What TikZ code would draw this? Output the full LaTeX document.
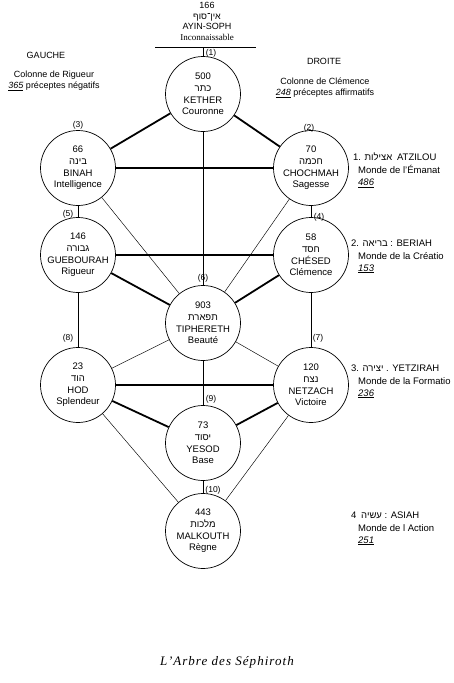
\documentclass[tikz,border=0pt]{standalone}
\usepackage{fontspec}
\setmainfont{Liberation Sans}
\newfontfamily\hebfont[Script=Hebrew]{Liberation Sans}
\newfontfamily\seriffam{Liberation Serif}
\TeXXeTstate=1
\newcommand{\heb}[1]{{\hebfont\beginR #1\endR}}
\newcommand{\unum}[1]{\underline{\textit{#1}}}
\begin{document}
\begin{tikzpicture}[x=1pt,y=-1pt,
  sephira/.style={circle, draw, line width=0.7pt, minimum size=75pt, inner sep=0pt, align=center, font=\fontsize{9.5}{11.6}\selectfont},
  thickline/.style={line width=1.8pt},
  thinline/.style={line width=0.45pt},
  pathlabel/.style={font=\fontsize{8.5}{9}\selectfont, inner sep=1pt},
  txt/.style={font=\fontsize{9}{11}\selectfont, align=center, inner sep=0pt},
  world/.style={font=\fontsize{9.5}{12}\selectfont, align=left, inner sep=0pt, anchor=north west},
]
\useasboundingbox (0,0) rectangle (454,683);

% Sephiroth
\node[sephira] (kether)    at (203,94)  {500\\\heb{כתר}\\KETHER\\Couronne};
\node[sephira] (binah)     at (78,168)  {66\\\heb{בינה}\\BINAH\\Intelligence};
\node[sephira] (chochmah)  at (311,168) {70\\\heb{חכמה}\\CHOCHMAH\\Sagesse};
\node[sephira] (guebourah) at (78,255)  {146\\\heb{גבורה}\\GUEBOURAH\\Rigueur};
\node[sephira] (chesed)    at (311,255) {58\\\heb{חסד}\\CHÉSED\\Clémence};
\node[sephira] (tiphereth) at (203,323) {903\\\heb{תפארת}\\TIPHERETH\\Beauté};
\node[sephira] (hod)       at (78,385)  {23\\\heb{הוד}\\HOD\\Splendeur};
\node[sephira] (netzach)   at (311,385) {120\\\heb{נצח}\\NETZACH\\Victoire};
\node[sephira] (yesod)     at (203,443) {73\\\heb{יסוד}\\YESOD\\Base};
\node[sephira] (malkouth)  at (203,531) {443\\\heb{מלכות}\\MALKOUTH\\Règne};

% Ayin Soph
\node[txt, anchor=north, font=\fontsize{9}{10.6}\selectfont] (ainsoph) at (207,2)
  {166\\\heb{אין־סוף}\\AYIN-SOPH\\{\seriffam Inconnaissable}};
\coordinate (barL) at (155,47);
\coordinate (barR) at (256,47);
\coordinate (barM) at (203,47);
\draw[thinline, line width=0.6pt] (barL) -- (barR);
\draw[thinline] (barM) -- (kether);

% thick paths
\draw[thickline] (kether) -- (binah);
\draw[thickline] (kether) -- (chochmah);
\draw[thickline] (binah) -- (chochmah);
\draw[thickline] (guebourah) -- (chesed);
\draw[thickline] (guebourah) -- (tiphereth);
\draw[thickline] (chesed) -- (tiphereth);
\draw[thickline] (hod) -- (netzach);
\draw[thickline] (hod) -- (yesod);
\draw[thickline] (netzach) -- (yesod);

% thin paths
\draw[thinline] (kether) -- (tiphereth);
\draw[thinline] (binah) -- (guebourah);
\draw[thinline] (chochmah) -- (chesed);
\draw[thinline] (binah) -- (tiphereth);
\draw[thinline] (chochmah) -- (tiphereth);
\draw[thinline] (guebourah) -- (hod);
\draw[thinline] (chesed) -- (netzach);
\draw[thinline] (tiphereth) -- (hod);
\draw[thinline] (tiphereth) -- (netzach);
\draw[thinline] (tiphereth) -- (yesod);
\draw[thinline] (yesod) -- (malkouth);
\draw[thinline] (hod) -- (malkouth);
\draw[thinline] (netzach) -- (malkouth);

% path labels
\node[pathlabel] (l1) at (211,53) {(1)};
\node[pathlabel] (l2) at (309,128) {(2)};
\node[pathlabel] (l3) at (78,125) {(3)};
\node[pathlabel] (l4) at (319,217) {(4)};
\node[pathlabel] (l5) at (68,214) {(5)};
\node[pathlabel] (l6) at (203,278) {(6)};
\node[pathlabel] (l7) at (318,338) {(7)};
\node[pathlabel] (l8) at (68,338) {(8)};
\node[pathlabel] (l9) at (211,399) {(9)};
\node[pathlabel] (l10) at (213,490) {(10)};

% column headers
\node[txt] (gauche) at (46,55) {GAUCHE};
\node[txt] (rigueur) at (54,81) {Colonne de Rigueur\\\unum{365} préceptes négatifs};
\node[txt] (droite) at (324,61) {DROITE};
\node[txt] (clemence) at (325,88) {Colonne de Clémence\\\unum{248} préceptes affirmatifs};

% worlds
\node[world] (w1a) at (353,153) {1. \heb{אצילות}\enspace ATZILOU};
\node[world] (w1b) at (358,165) {Monde de l’Émanat\\\unum{486}};
\node[world] (w2a) at (351,240) {2. \heb{בריאה} : BERIAH};
\node[world] (w2b) at (358,252) {Monde de la Créatio\\\unum{153}};
\node[world] (w3a) at (351,365) {3. \heb{יצירה} . YETZIRAH};
\node[world] (w3b) at (358,377) {Monde de la Formatio\\\unum{236}};
\node[world] (w4a) at (351,512) {4\enspace\heb{עשיה} : ASIAH};
\node[world] (w4b) at (358,524) {Monde de l Action\\\unum{251}};

% caption
\node[inner sep=0pt] (caption) at (227,662)
  {\seriffam\itshape\addfontfeatures{LetterSpace=8}\fontsize{13}{15}\selectfont L’Arbre des Séphiroth};
\end{tikzpicture}
\end{document}
